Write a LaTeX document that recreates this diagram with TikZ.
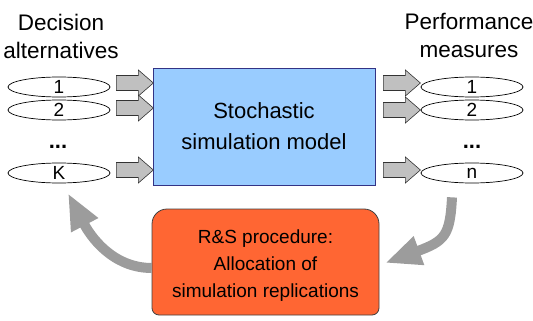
\documentclass[tikz,border=0pt]{standalone}
\usepackage{fontspec}
\setmainfont{Liberation Sans}
\usetikzlibrary{shapes.geometric,arrows.meta,backgrounds}
\definecolor{boxblue}{HTML}{99CCFF}
\definecolor{boxorange}{HTML}{FF6633}
\definecolor{arrgray}{HTML}{C0C0C0}
\definecolor{curvegray}{HTML}{9C9C9C}
\begin{document}
\begin{tikzpicture}[x=1pt,y=-1pt,
  oval/.style={ellipse, draw, line width=0.7pt, minimum width=102pt, minimum height=20pt, inner sep=0pt, font=\fontsize{19}{19}\selectfont},
  title/.style={align=center, font=\fontsize{22.5}{27.5}\selectfont},
  dots/.style={inner sep=0pt, font=\fontsize{22}{22}\selectfont\bfseries},
  fatarrow/.pic={\draw[fill=arrgray, draw=black!80, line width=0.6pt] (0,-7.5) -- (22,-7.5) -- (22,-13) -- (37,0) -- (22,13) -- (22,7.5) -- (0,7.5) -- cycle;},
  bendarrow/.style={draw=curvegray, line width=10pt, -{Triangle[width=28pt,length=36pt]}}
]
\useasboundingbox (0,0) rectangle (533,321);

% titles
\node[title] (tleft) at (61,36.5) {Decision\\alternatives};
\node[title] (tright) at (469,35.5) {Performance\\measures};

% left ellipses
\node[oval] (a1) at (59,87) {1};
\node[oval] (a2) at (59,110) {2};
\node[dots] (adots) at (58,147) {...};
\node[oval] (aK) at (59,173) {K};

% right ellipses
\node[oval] (p1) at (472,87) {1};
\node[oval] (p2) at (472,110) {2};
\node[dots] (pdots) at (472,147) {...};
\node[oval] (pn) at (472,173) {n};

% simulation model
\node[draw=black!60!blue!80, fill=boxblue, line width=0.8pt, minimum width=222pt, minimum height=117pt, align=center, font=\fontsize{22}{31}\selectfont] (sim) at (264,126.5) {Stochastic\\simulation model};

% block arrows
\pic at ([xshift=6pt,yshift=4pt]a1.east) {fatarrow};
\pic at ([xshift=6pt,yshift=2pt]a2.east) {fatarrow};
\pic at ([xshift=6pt,yshift=3pt]aK.east) {fatarrow};
\pic at ([xshift=8pt,yshift=4pt]sim.east |- a1) {fatarrow};
\pic at ([xshift=8pt,yshift=0pt]sim.east |- a2) {fatarrow};
\pic at ([xshift=8pt,yshift=3pt]sim.east |- aK) {fatarrow};

% R&S procedure box
\node[align=center, font=\fontsize{19}{27}\selectfont, minimum width=227pt, minimum height=98pt] (rs) at (265.5,266) {R\&S procedure:\\Allocation of\\simulation replications};
\begin{scope}[on background layer]
\draw[fill=boxorange, draw=black!75, line width=0.8pt]
  (152,262) [rounded corners=15pt] -- (152,209) -- (379,209) -- (379,262)
  [rounded corners=7pt] -- (379,315) -- (152,315) -- cycle;
\end{scope}

% feedback arrows
\draw[bendarrow] ([yshift=-2pt]rs.west) .. controls +(-40,0) and +(22,42) .. ([xshift=9pt,yshift=-10pt]aK.south);
\draw[bendarrow] ([xshift=-20pt,yshift=-14pt]pn.south) .. controls +(-2,38) and +(60,-22) .. ([xshift=6pt,yshift=3pt]rs.east);
\end{tikzpicture}
\end{document}
